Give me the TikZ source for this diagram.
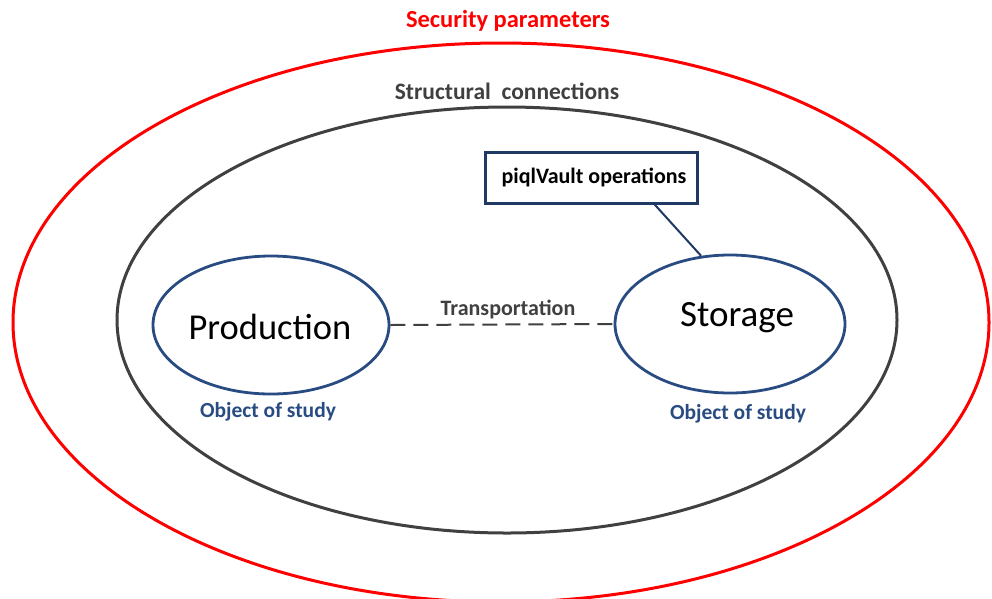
\documentclass[tikz,border=0pt]{standalone}
\usepackage{fontspec}
\setmainfont{Carlito}
\usetikzlibrary{shapes.geometric}
\definecolor{objblue}{RGB}{40,75,130}
\definecolor{darkgrey}{RGB}{64,64,64}
\definecolor{boxblue}{RGB}{32,56,100}
\tikzset{
	ring/.style={draw,ellipse,line width=3pt,inner sep=0pt},
	obj/.style={draw=objblue,ellipse,line width=2.8pt,inner sep=0pt,minimum width=236pt,minimum height=138pt},
	lbl/.style={font=\bfseries\fontsize{#1}{#1}\selectfont,inner sep=0pt},
	big/.style={font=\fontsize{#1}{#1}\selectfont,inner sep=0pt}
}
\begin{document}
\begin{tikzpicture}[x=1pt,y=-1pt]
\useasboundingbox (0,0) rectangle (992,598);
% outer rings
\node[ring,red,minimum width=976pt,minimum height=559pt] (sec) at (501,322.5) {};
\node[ring,darkgrey,minimum width=780pt,minimum height=426pt] (struct) at (507,320) {};
\node[lbl=24.5,red] (seclbl) at (508,21) {Security parameters};
\node[lbl=23.5,darkgrey] (structlbl) at (507,91) {Structural\ \ connections};

% objects of study
\node[obj] (prod) at (271,325) {};
\node[obj,minimum width=230pt] (stor) at (730,324) {};
\node[big=36.5] (prodtxt) at (270,327) {Production};
\node[big=37] (stortxt) at (737,318) {Storage};
\node[lbl=21.5,objblue] (prodobj) at (268,412) {Object of study};
\node[lbl=21.5,objblue] (storobj) at (738,414) {Object of study};

% piqlVault box
\node[draw=boxblue,line width=3pt,minimum width=212pt,minimum height=51pt,inner sep=0pt] (vault) at (591,177.5) {};
\node[lbl=22,black] (vaulttxt) at (594,177) {piqlVault operations};
\draw[boxblue,line width=2pt] (vault.-23) -- (stor.113);

% transportation
\draw[darkgrey,line width=2pt,dash pattern=on 15pt off 8pt] (prod.east) -- (stor.west);
\node[lbl=22,darkgrey] (trans) at (508,309) {Transportation};
\end{tikzpicture}
\end{document}
